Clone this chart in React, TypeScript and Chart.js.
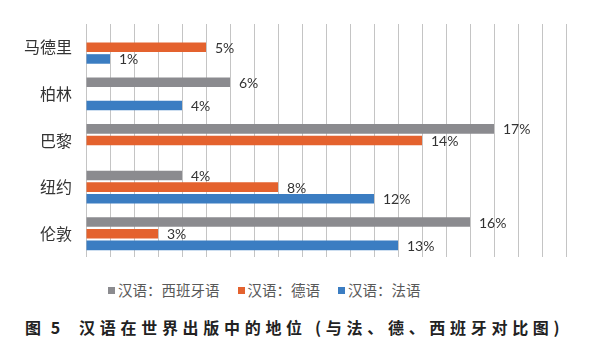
import React, { useEffect, useRef } from "react";
import { Chart, registerables } from "chart.js";

Chart.register(...registerables);

const categories = ["马德里", "柏林", "巴黎", "纽约", "伦敦"];
const seriesNames = ["汉语：西班牙语", "汉语：德语", "汉语：法语"];
const spanishValues: (number | null)[] = [null, 6, 17, 4, 16];
const germanValues: (number | null)[] = [5, null, 14, 8, 3];
const frenchValues: (number | null)[] = [1, 4, null, 12, 13];
const seriesColors = ["#8b8b8f", "#e4622e", "#3b7dc2"];
const xMax = 20;
const captionLead = "图 5";
const captionText = "汉语在世界出版中的地位 (与法、德、西班牙对比图)";

const valueLabelPlugin = {
  id: "valueLabels",
  afterDatasetsDraw(chart: any) {
    const ctx = chart.ctx;
    ctx.save();
    ctx.font = "14px Lato, 'Liberation Sans', sans-serif";
    ctx.fillStyle = "#333333";
    ctx.textBaseline = "middle";
    ctx.textAlign = "left";
    chart.data.datasets.forEach((ds: any, i: number) => {
      const meta = chart.getDatasetMeta(i);
      meta.data.forEach((el: any, j: number) => {
        const v = ds.data[j];
        if (v === null || v === undefined) return;
        ctx.fillText(v + "%", el.x + 9, el.y + 1);
      });
    });
    ctx.restore();
  },
};

export default function App() {
  const canvasRef = useRef<HTMLCanvasElement | null>(null);

  useEffect(() => {
    document.body.style.margin = "0";
    const canvas = canvasRef.current;
    if (!canvas) return;
    const chart = new Chart(canvas, {
      type: "bar",
      data: {
        labels: categories,
        datasets: [spanishValues, germanValues, frenchValues].map((d, i) => ({
          label: seriesNames[i],
          data: d,
          backgroundColor: seriesColors[i],
          borderWidth: 0,
          categoryPercentage: 0.75,
          barPercentage: 0.82,
        })),
      },
      options: {
        indexAxis: "y",
        responsive: false,
        animation: false,
        layout: { padding: { top: 24, right: 27, bottom: 13, left: 0 } },
        plugins: {
          legend: { display: false },
          tooltip: { enabled: false },
        },
        scales: {
          x: {
            min: 0,
            max: xMax,
            ticks: { display: false, stepSize: 1 },
            grid: { color: "#c4c4c4", drawTicks: false, lineWidth: 1 },
            border: { display: false },
            afterFit(scale: any) {
              scale.height = 0;
              scale.paddingLeft = 0;
              scale.paddingRight = 0;
            },
          },
          y: {
            grid: { display: false, drawTicks: false },
            border: { display: false },
            ticks: {
              padding: 14,
              color: "#333333",
              font: { size: 16, family: "'Noto Sans CJK SC', sans-serif" },
            },
            afterFit(scale: any) {
              scale.width = 86;
              scale.paddingTop = 0;
              scale.paddingBottom = 0;
            },
          },
        },
      },
      plugins: [valueLabelPlugin],
    } as any);
    return () => chart.destroy();
  }, []);

  return (
    <div style={{ position: "relative", width: 593, height: 359, background: "#fff", overflow: "hidden" }}>
      <canvas ref={canvasRef} width={593} height={270} style={{ display: "block" }} />
      <div
        style={{
          position: "absolute",
          top: 280,
          left: 108,
          display: "flex",
          alignItems: "center",
          fontFamily: "'Noto Sans CJK SC', sans-serif",
          fontSize: 14.5,
          color: "#595959",
          whiteSpace: "nowrap",
          lineHeight: "20px",
        }}
      >
        {seriesNames.map((n, i) => (
          <span key={n} style={{ display: "flex", alignItems: "center", marginRight: 18 }}>
            <span style={{ display: "inline-block", width: 7, height: 7, background: seriesColors[i], marginRight: 3 }} />
            <span>{n}</span>
          </span>
        ))}
      </div>
      <div
        style={{
          position: "absolute",
          top: 316,
          left: 25,
          display: "flex",
          fontFamily: "'Noto Sans CJK SC', sans-serif",
          fontWeight: 700,
          fontSize: 16,
          color: "#222",
          whiteSpace: "nowrap",
          lineHeight: "22px",
        }}
      >
        <span style={{ letterSpacing: 3 }}>{captionLead}</span>
        <span style={{ marginLeft: 16, letterSpacing: 4.7 }}>{captionText}</span>
      </div>
    </div>
  );
}
